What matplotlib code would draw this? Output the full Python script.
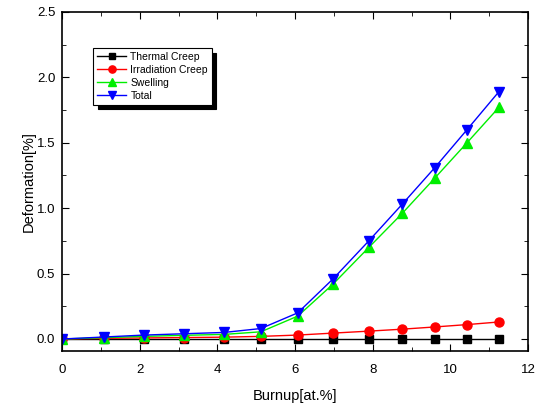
import matplotlib
matplotlib.use("Agg")
import matplotlib.pyplot as plt
from matplotlib.ticker import MultipleLocator

plt.rcParams['font.family'] = ['Liberation Sans', 'DejaVu Sans']

burnup = [0, 1.07, 2.11, 3.14, 4.17, 5.12, 6.07, 6.98, 7.9, 8.76, 9.6, 10.43, 11.25]
thermal_creep = [0, 0, 0, 0, 0, 0, 0, 0, 0, 0, 0, 0, 0]
irradiation_creep = [0, 0.005, 0.008, 0.011, 0.014, 0.02, 0.03, 0.045, 0.06, 0.075, 0.092, 0.11, 0.13]
swelling = [0, 0.01, 0.02, 0.028, 0.035, 0.055, 0.175, 0.42, 0.70, 0.96, 1.23, 1.50, 1.77]
total = [0, 0.015, 0.03, 0.04, 0.05, 0.08, 0.2, 0.46, 0.75, 1.03, 1.31, 1.60, 1.89]

fig = plt.figure(figsize=(5.36, 4.12), dpi=100)
ax = fig.add_axes([0.116, 0.148, 0.869, 0.823])

ax.plot(burnup, thermal_creep, color='black', marker='s', ms=6, lw=1, label='Thermal Creep')
ax.plot(burnup, irradiation_creep, color='red', marker='o', ms=6.5, lw=1, label='Irradiation Creep')
ax.plot(burnup, swelling, color='#00ee00', marker='^', ms=7, lw=1, label='Swelling')
ax.plot(burnup, total, color='blue', marker='v', ms=7, lw=1, label='Total')

ax.set_xlim(0, 12)
ax.set_ylim(-0.092, 2.5)
ax.xaxis.set_major_locator(MultipleLocator(2))
ax.xaxis.set_minor_locator(MultipleLocator(1))
ax.yaxis.set_major_locator(MultipleLocator(0.5))
ax.yaxis.set_minor_locator(MultipleLocator(0.25))
ax.tick_params(which='both', direction='in', top=True, right=True, labelsize=9.5)
ax.tick_params(which='major', length=5)
ax.tick_params(which='minor', length=3)
ax.tick_params(axis='x', pad=9)
ax.tick_params(axis='y', pad=5)
for s in ax.spines.values():
    s.set_linewidth(1.2)

ax.set_xlabel('Burnup[at.%]', fontsize=10.5, labelpad=10)
ax.set_ylabel('Deformation[%]', fontsize=10.5, labelpad=1)

leg = ax.legend(loc='upper left', bbox_to_anchor=(0.067, 0.894), borderaxespad=0,
                fontsize=7.5, frameon=True, fancybox=False,
                shadow={'color': 'black', 'alpha': 1, 'ox': 3.5, 'oy': -3.5},
                edgecolor='black', handlelength=2.8, borderpad=0.35, labelspacing=0.3,
                markerscale=0.8, handletextpad=0.4)
leg.get_frame().set_linewidth(0.8)
leg.get_frame().set_alpha(1)

fig.savefig('out.png', dpi=100)
